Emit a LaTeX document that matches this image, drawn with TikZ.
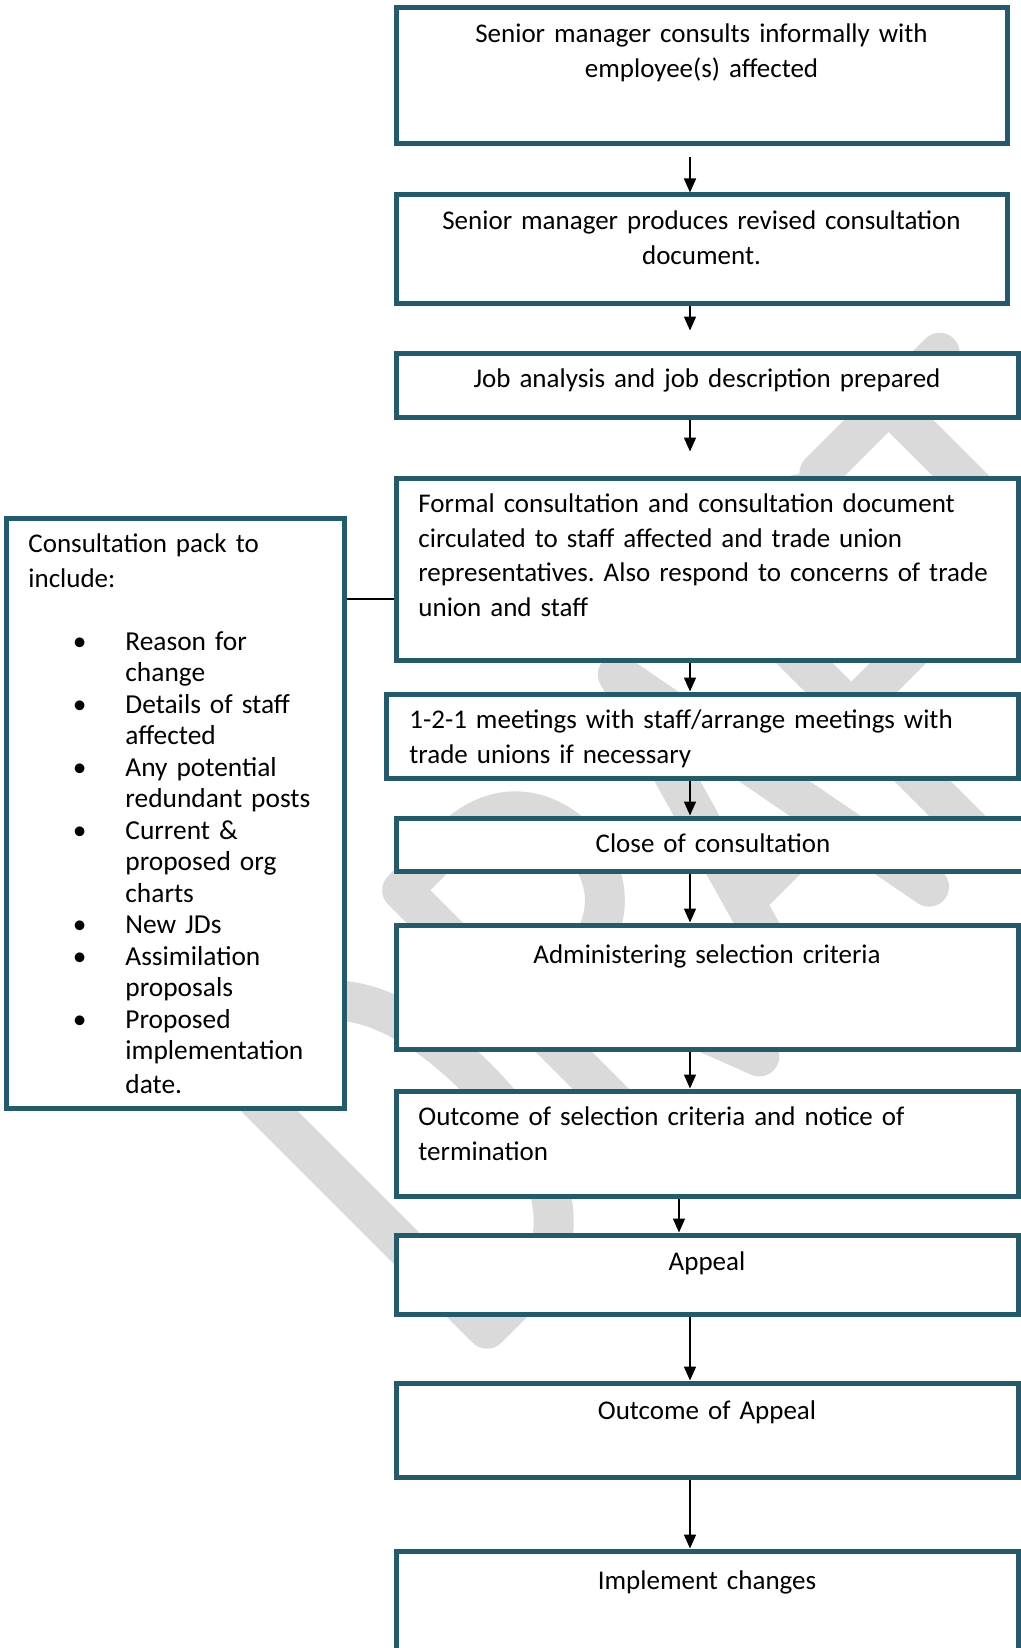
\documentclass[tikz,border=0pt]{standalone}
\usepackage{fontspec}
\setmainfont{Carlito}
\usetikzlibrary{arrows.meta,fit}

\definecolor{boxblue}{RGB}{36,90,105}
\definecolor{markgray}{RGB}{218,218,218}
\newcommand{\boxfont}{\fontsize{13.5}{17.35}\selectfont\frenchspacing}

\tikzset{
  stepbox/.style={draw=boxblue, line width=2.5pt, fill=white, inner sep=0pt},
  midtext/.style={font=\boxfont, text width=295pt, align=center, anchor=base, inner sep=0pt},
  lefttext/.style={font=\boxfont, text width=295pt, align=left, anchor=base west, inner sep=0pt},
  link/.style={->, line width=0.8pt},
}

\begin{document}
\begin{tikzpicture}[x=0.5pt, y=-0.5pt, >={Triangle[length=7pt,width=6pt]}]
  \useasboundingbox (0,0) rectangle (1021,1648);
  \clip (0,0) rectangle (1021,1648);

  % watermark
  \begin{scope}[shift={(487,1357)}, x={(0.3536pt,0.3536pt)}, y={(-0.3536pt,0.3536pt)},
      draw=markgray, line width=20pt, line cap=round, line join=round]
    \draw (20,20) -- (20,390) -- (70,390) .. controls (160,390) and (190,300) .. (190,205)
      .. controls (190,110) and (160,20) .. (70,20) -- cycle;
    \draw (270,20) -- (270,390) -- (340,390) .. controls (400,390) and (430,350) .. (430,302)
      .. controls (430,255) and (400,215) .. (340,215) -- (270,215);
    \draw (330,215) -- (405,20);
    \draw (470,20) -- (575,390) -- (645,20);
    \draw (505,140) -- (622,140);
    \draw (715,20) -- (715,390) -- (830,390);
    \draw (715,200) -- (810,200);
    \draw (860,390) -- (1030,390);
    \draw (958,390) -- (958,20);
  \end{scope}

  \node[stepbox, fit={(396,8) (1007,144)}] (b1) {};
  \node[stepbox, fit={(396,195) (1007,303)}] (b2) {};
  \node[stepbox, fit={(396,353) (1018,417)}] (b3) {};
  \node[stepbox, fit={(396,478) (1018,660)}] (b4) {};
  \node[stepbox, fit={(386,694) (1018,778)}] (b5) {};
  \node[stepbox, fit={(396,818) (1030,871)}] (b6) {};
  \node[stepbox, fit={(396,925) (1018,1049)}] (b7) {};
  \node[stepbox, fit={(396,1091) (1018,1196)}] (b8) {};
  \node[stepbox, fit={(396,1235) (1018,1314)}] (b9) {};
  \node[stepbox, fit={(396,1383) (1018,1477)}] (b10) {};
  \node[stepbox, fit={(396,1551) (1018,1660)}] (b11) {};
  \node[stepbox, fit={(6,518) (344,1108)}] (lbox) {};

  \node[midtext] (t1) at ([yshift=-18.5pt]b1.north) {Senior manager consults informally with\\employee(s) affected};
  \node[midtext] (t2) at ([yshift=-18.5pt]b2.north) {Senior manager produces revised consultation\\document.};
  \node[midtext] (t3) at ([yshift=-18.5pt]b3.north) {Job analysis and job description prepared};
  \node[lefttext] (t4) at ([xshift=12.25pt, yshift=-18.5pt]b4.north west)
    {Formal consultation and consultation document\\circulated to staff affected and trade union\\representatives. Also respond to concerns of trade\\union and staff};
  \node[lefttext] (t5) at ([xshift=12.75pt, yshift=-18.5pt]b5.north west)
    {1-2-1 meetings with staff/arrange meetings with\\trade unions if necessary};
  \node[midtext] (t6) at ([yshift=-18.5pt]b6.north) {Close of consultation};
  \node[midtext] (t7) at ([yshift=-20.5pt]b7.north) {Administering selection criteria};
  \node[lefttext] (t8) at ([xshift=12.25pt, yshift=-18.5pt]b8.north west)
    {Outcome of selection criteria and notice of\\termination};
  \node[midtext] (t9) at ([yshift=-19pt]b9.north) {Appeal};
  \node[midtext] (t10) at ([yshift=-19.5pt]b10.north) {Outcome of Appeal};
  \node[midtext] (t11) at ([yshift=-20.5pt]b11.north) {Implement changes};

  \node[lefttext, text width=150pt] (tl) at ([xshift=12.25pt, yshift=-18.5pt]lbox.north west)
    {Consultation pack to\\include:\par
     \vspace{15.75pt}%
     {\fontsize{13.7}{15.75}\selectfont
     \begin{list}{\textbullet}{\setlength{\leftmargin}{48.5pt}\setlength{\labelsep}{19.5pt}%
       \setlength{\labelwidth}{29pt}\setlength{\itemsep}{0pt}\setlength{\parsep}{0pt}%
       \setlength{\topsep}{0pt}\setlength{\partopsep}{0pt}}
     \item Reason for\\change
     \item Details of staff\\affected
     \item Any potential\\redundant posts
     \item Current \&\\proposed org\\charts
     \item New JDs
     \item Assimilation\\proposals
     \item Proposed\\implementation\\[1pt]date.
     \end{list}}};

  % arrows down the right column
  \coordinate (ax) at (690,0);
  \coordinate (bx) at (679,0);
  \draw[link, shorten <=5.5pt] (b1.south -| ax) -- (b2.north -| ax);
  \draw[link, shorten >=10pt] (b2.south -| ax) -- (b3.north -| ax);
  \draw[link, shorten >=12pt] (b3.south -| ax) -- (b4.north -| ax);
  \foreach \i/\j in {4/5,5/6,6/7,7/8,9/10,10/11}
    \draw[link] (b\i.south -| ax) -- (b\j.north -| ax);
  \draw[link] (b8.south -| bx) -- (b9.north -| bx);

  \coordinate (ly) at (0,599);
  \draw[line width=0.8pt] (lbox.east |- ly) -- (b4.west |- ly);
\end{tikzpicture}
\end{document}
